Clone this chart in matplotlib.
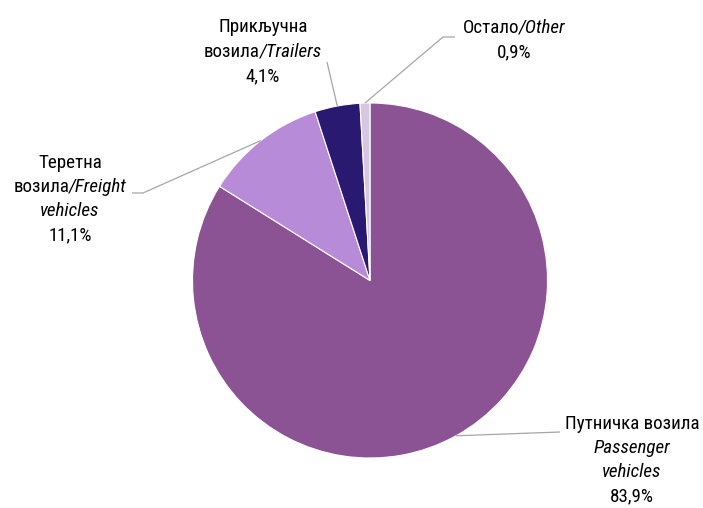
import matplotlib
matplotlib.use('Agg')
import matplotlib.pyplot as plt
import numpy as np
from matplotlib import font_manager

# data
names_sr = ['Путничка возила', 'Теретна возила', 'Прикључна возила', 'Остало']
names_en = ['Passenger vehicles', 'Freight vehicles', 'Trailers', 'Other']
shares = [83.9, 11.1, 4.1, 0.9]
colors = ['#8B5294', '#B88BD9', '#2A1970', '#D5C7E2']

# pick a narrow font if we have one
FONT = dict(family='DejaVu Sans', stretch='condensed')
for fam in ['Liberation Sans Narrow', 'Roboto Condensed', 'Open Sans Condensed',
            'Noto Sans Condensed', 'Arial Narrow']:
    try:
        font_manager.findfont(font_manager.FontProperties(family=fam),
                              fallback_to_default=False)
        FONT = dict(family=fam)
        break
    except Exception:
        pass

W, H = 703, 508
fig = plt.figure(figsize=(W / 100, H / 100), dpi=100)
ax = fig.add_axes([0, 0, 1, 1])

cx, cy, r = 370, H - 280.5, 177.5
wedges, _ = ax.pie(shares, colors=colors, startangle=90, counterclock=False,
                   center=(cx, cy), radius=r, frame=True,
                   wedgeprops=dict(edgecolor='white', linewidth=0.8))
ax.set_xlim(0, W)
ax.set_ylim(0, H)
ax.set_aspect('equal')
ax.axis('off')

renderer = fig.canvas.get_renderer()

# size the font so the widest label line matches the original (~135 px)
probe = ax.text(0, 0, 'Путничка возила', fontsize=10, **FONT)
FS = 10 * 135 / probe.get_window_extent(renderer).width
probe.remove()

def pct(v):
    return '{:.1f}%'.format(v).replace('.', ',')

# label lines: list of (text, style) pieces per line
label_lines = [
    [[('Путничка возила', 'normal')], [('Passenger', 'italic')], [('vehicles', 'italic')], [(pct(shares[0]), 'normal')]],
    [[('Теретна', 'normal')], [('возила', 'normal'), ('/Freight', 'italic')], [('vehicles', 'italic')], [(pct(shares[1]), 'normal')]],
    [[('Прикључна', 'normal')], [('возила', 'normal'), ('/Trailers', 'italic')], [(pct(shares[2]), 'normal')]],
    [[('Остало', 'normal'), ('/Other', 'italic')], [(pct(shares[3]), 'normal')]],
]
# label block centre x and first baseline (image coords), line step
label_pos = [(632, 429), (70, 168), (263, 32.5), (514, 33)]
step = 24.2
# leader elbows after the wedge edge point (image coords)
leaders = [[(560, 432)], [(143, 193), (132, 193)], [(327, 62)], [(443, 37), (455, 37)]]

def draw_line(pieces, xc, yb):
    txts = [ax.text(0, yb, t, fontsize=FS, style=s, ha='left', va='baseline', **FONT)
            for t, s in pieces]
    widths = [t.get_window_extent(renderer).width for t in txts]
    x = xc - sum(widths) / 2
    for t, w in zip(txts, widths):
        t.set_x(x)
        x += w

for i, w in enumerate(wedges):
    xc, yb = label_pos[i]
    for k, pieces in enumerate(label_lines[i]):
        draw_line(pieces, xc, H - (yb + k * step))
    mid = np.deg2rad((w.theta1 + w.theta2) / 2)
    px = [cx + r * np.cos(mid)] + [p[0] for p in leaders[i]]
    py = [cy + r * np.sin(mid)] + [H - p[1] for p in leaders[i]]
    ax.plot(px, py, color='#A6A6A6', lw=0.9, solid_capstyle='butt')

plt.savefig('out.png', dpi=100)
